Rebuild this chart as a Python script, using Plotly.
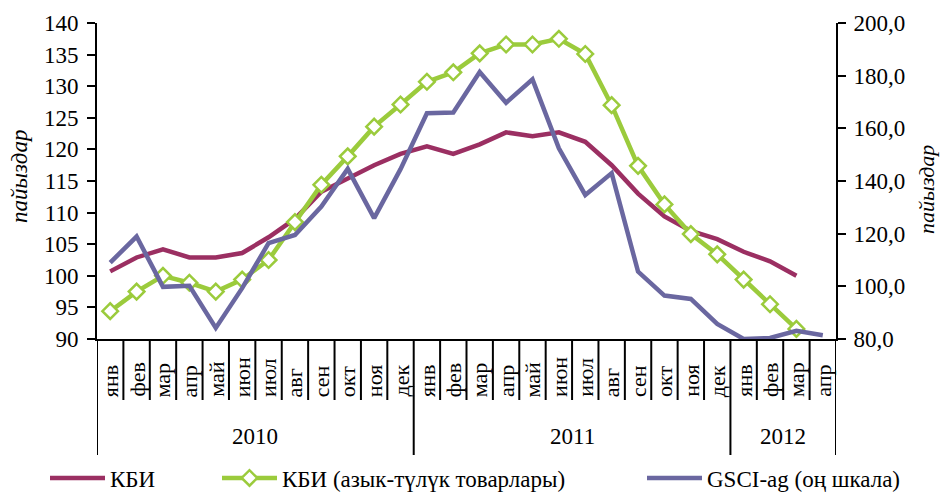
import plotly.graph_objects as go

months = ["янв", "фев", "мар", "апр", "май", "июн", "июл", "авг", "сен", "окт", "ноя", "дек",
          "янв", "фев", "мар", "апр", "май", "июн", "июл", "авг", "сен", "окт", "ноя", "дек",
          "янв", "фев", "мар", "апр"]
years = ["2010"] * 12 + ["2011"] * 12 + ["2012"] * 4

kbi = [100.7, 102.9, 104.2, 102.9, 102.9, 103.6, 106.1, 109.0, 113.3, 115.5, 117.5, 119.3,
       120.5, 119.3, 120.8, 122.7, 122.1, 122.7, 121.2, 117.5, 113.0, 109.4, 107.1, 105.8,
       103.8, 102.3, 100.0, None]
kbi_food = [94.4, 97.5, 100.0, 98.9, 97.5, 99.4, 102.5, 108.5, 114.4, 118.9, 123.6, 127.1,
            130.7, 132.2, 135.2, 136.6, 136.6, 137.5, 135.1, 127.0, 117.4, 111.3, 106.6, 103.4,
            99.4, 95.5, 91.6, None]
gsci = [109.0, 118.9, 99.8, 100.2, 84.2, 99.3, 116.4, 119.5, 130.3, 144.6, 125.9, 144.5,
        165.7, 166.0, 181.4, 169.7, 178.6, 152.4, 134.7, 143.0, 105.6, 96.5, 95.2, 85.7,
        80.0, 80.4, 83.1, 81.4]

names = ["КБИ", "КБИ (азык-түлүк товарлары)", "GSCI-ag (оң шкала)"]
axis_title = "пайыздар"

FONT = "Liberation Serif"
C_KBI = "#9B2F62"
C_FOOD = "#9BCB3C"
C_GSCI = "#6A67A0"

W, H = 940, 495
ML, MR, MT, MB = 97, 104, 23, 156
H_PLOT = H - MT - MB
W_PLOT = W - ML - MR

idx = list(range(len(months)))

fig = go.Figure()
fig.add_trace(go.Scatter(x=idx, y=kbi, name=names[0], mode="lines",
                         line=dict(color=C_KBI, width=4.5), legend="legend"))
fig.add_trace(go.Scatter(x=idx, y=kbi_food, name=names[1], mode="lines+markers",
                         line=dict(color=C_FOOD, width=4.5),
                         marker=dict(symbol="diamond", size=12, color="white",
                                     line=dict(color=C_FOOD, width=2.5)),
                         legend="legend2"))
fig.add_trace(go.Scatter(x=idx, y=gsci, name=names[2], mode="lines", yaxis="y2",
                         line=dict(color=C_GSCI, width=4.5), legend="legend3"))


def py(px_below):
    return -px_below / H_PLOT


shapes = []
year_bounds = [-0.5, 11.5, 23.5, 27.5]
for i in range(len(months) + 1):
    xb = i - 0.5
    y1 = py(116) if xb in year_bounds else py(61)
    shapes.append(dict(type="line", xref="x", yref="paper", x0=xb, x1=xb, y0=0, y1=y1,
                       line=dict(color="black", width=2)))

annotations = []
for i, m in enumerate(months):
    annotations.append(dict(x=i, y=py(60), xref="x", yref="paper", text=m, showarrow=False,
                            textangle=-90, xanchor="center", yanchor="bottom",
                            font=dict(family=FONT, size=22, color="black")))
groups = {}
for i, yv in enumerate(years):
    groups.setdefault(yv, []).append(i)
for yv, ii in groups.items():
    annotations.append(dict(x=(ii[0] + ii[-1]) / 2, y=py(98), xref="x", yref="paper", text=yv,
                            showarrow=False, xanchor="center", yanchor="middle",
                            font=dict(family=FONT, size=23, color="black")))
annotations.append(dict(x=(19 - ML) / W_PLOT, y=(MT + H_PLOT - 177) / H_PLOT, xref="paper",
                        yref="paper", text=axis_title, showarrow=False, textangle=-90,
                        xanchor="center", yanchor="middle",
                        font=dict(family=FONT, size=23, color="black", style="italic")))
annotations.append(dict(x=(927 - ML) / W_PLOT, y=(MT + H_PLOT - 190) / H_PLOT, xref="paper",
                        yref="paper", text=axis_title, showarrow=False, textangle=-90,
                        xanchor="center", yanchor="middle",
                        font=dict(family=FONT, size=22, color="black", style="italic")))

leg_common = dict(orientation="h", xref="container", yref="container",
                  yanchor="middle", y=(H - 478) / H, xanchor="left",
                  font=dict(family=FONT, size=23, color="black"), bgcolor="rgba(0,0,0,0)",
                  itemwidth=55)

fig.update_layout(
    width=W, height=H,
    margin=dict(l=ML, r=MR, t=MT, b=MB, autoexpand=False),
    paper_bgcolor="white", plot_bgcolor="white",
    separators=", ",
    font=dict(family=FONT, size=23, color="black"),
    showlegend=True,
    legend=dict(x=45 / W, **leg_common),
    legend2=dict(x=217 / W, **leg_common),
    legend3=dict(x=642 / W, **leg_common),
    xaxis=dict(range=[-0.5, 27.5], showticklabels=False, ticks="", showgrid=False,
               zeroline=False, showline=True, linecolor="black", linewidth=2),
    yaxis=dict(range=[90, 140], dtick=5, ticks="outside", ticklen=8, tickwidth=2,
               tickcolor="black", showline=True, linecolor="black", linewidth=2,
               showgrid=False, zeroline=False, ticklabelstandoff=4,
               tickfont=dict(family=FONT, size=23, color="black")),
    yaxis2=dict(range=[80, 200], dtick=20, tickformat=".1f", overlaying="y", side="right",
                ticks="outside", ticklen=8, tickwidth=2, tickcolor="black", showline=True,
                linecolor="black", linewidth=2, showgrid=False, zeroline=False,
                ticklabelstandoff=3, tickfont=dict(family=FONT, size=23, color="black")),
    shapes=shapes,
    annotations=annotations,
)

fig.write_html("out.html", config={"displayModeBar": False},
               post_script="document.body.style.margin='0px';")
